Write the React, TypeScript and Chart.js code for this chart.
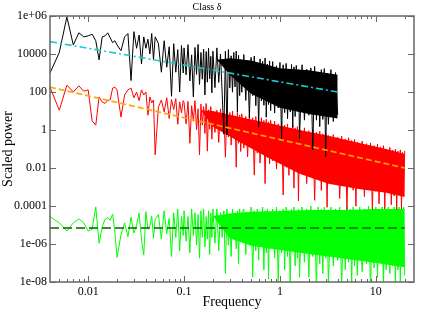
import React, { useEffect, useRef } from "react";
import { Chart, registerables } from "chart.js";

Chart.register(...registerables);

const SERIF = "'Liberation Serif', 'DejaVu Serif', serif";

const chartTitle = "Class δ";
const xAxisTitle = "Frequency";
const yAxisTitle = "Scaled power";

const xTickValues = [0.01, 0.1, 1, 10];
const xTickLabels = ["0.01", "0.1", "1", "10"];
const xMinorTickValues = [
  0.005, 0.006, 0.007, 0.008, 0.009,
  0.02, 0.03, 0.04, 0.05, 0.06, 0.07, 0.08, 0.09,
  0.2, 0.3, 0.4, 0.5, 0.6, 0.7, 0.8, 0.9,
  2, 3, 4, 5, 6, 7, 8, 9,
  20,
];
const yTickValues = [1e-8, 1e-6, 1e-4, 1e-2, 1, 100, 1e4, 1e6];
const yTickLabels = ["1e-08", "1e-06", "0.0001", "0.01", "1", "100", "10000", "1e+06"];

// frequency grid (shared by the three spectra; black stops at 4)
const frequency = [
  0.004, 0.005, 0.006, 0.007, 0.008, 0.009, 0.01, 0.011, 0.012, 0.013, 0.014, 0.015, 0.016, 0.017, 0.018, 0.019, 0.02,
  0.022, 0.024, 0.026, 0.028, 0.03, 0.032, 0.034, 0.036, 0.038, 0.04, 0.042, 0.044, 0.046, 0.048, 0.05,
  0.054, 0.058, 0.062, 0.066, 0.07, 0.074, 0.078, 0.082, 0.086, 0.09, 0.094, 0.098,
  0.1, 0.105, 0.11, 0.115, 0.12, 0.125, 0.13, 0.135, 0.14, 0.145, 0.15, 0.155, 0.16, 0.165, 0.17, 0.175, 0.18, 0.185, 0.19, 0.195, 0.2,
  0.21, 0.22, 0.23, 0.24, 0.25, 0.26, 0.27, 0.28, 0.29, 0.3, 0.31, 0.32, 0.33, 0.34, 0.35, 0.36, 0.37, 0.38, 0.39, 0.4,
  0.42, 0.44, 0.46, 0.48, 0.5, 0.52, 0.54, 0.56, 0.58, 0.6, 0.62, 0.64, 0.66, 0.68, 0.7, 0.72, 0.74, 0.76, 0.78, 0.8,
  0.84, 0.88, 0.92, 0.96, 1, 1.04, 1.08, 1.12, 1.16, 1.2, 1.24, 1.28, 1.32, 1.36, 1.4, 1.44, 1.48, 1.52, 1.56, 1.6,
  1.7, 1.8, 1.9, 2, 2.1, 2.2, 2.3, 2.4, 2.5, 2.6, 2.7, 2.8, 2.9, 3, 3.1, 3.2,
  3.4, 3.6, 3.8, 4, 4.2, 4.4, 4.6, 4.8, 5, 5.2, 5.4, 5.6, 5.8, 6, 6.2, 6.4,
  6.8, 7.2, 7.6, 8, 8.4, 8.8, 9.2, 9.6, 10, 10.4, 10.8, 11.2, 11.6, 12, 12.4, 12.8,
  13.5, 14, 14.5, 15, 15.5, 16, 16.5, 17, 17.5, 18, 18.5, 19, 19.5, 20,
];

const blackPower = [
  1e3, 1.2e4, 9e5, 3e4, 1.3e5, 8e4, 9e4, 1.1e5, 5e4, 5e3, 8e4, 9e4, 1.3e5, 7e4, 4e4, 5e4, 3e4,
  1.5e4, 8e4, 1.2e5, 4e2, 1.5e5, 2e4, 1e5, 3e3, 8e4, 2e4, 6e4, 1e4, 1.2e5, 5e3, 8e4,
  3.6e4, 1.1e3, 5e4, 2e3, 2.4e4, 60, 3.5e4, 1.1e3, 1.7e4, 100, 2.8e4, 1e3,
  2.1e4, 800, 3.1e4, 380, 9e3, 56, 2.2e4, 850, 3.2e4, 250, 1.2e4, 470, 1.8e4, 70, 1.35e4, 330, 2e4, 490, 7.5e3, 90, 1.4e4,
  170, 2.1e4, 320, 1e4, 76, 0.6, 1.4e4, 0.55, 1.7e4, 165, 8e3, 98, 1.2e4, 185, 1.4e4, 8.7, 8.5e3, 65, 5e3, 97,
  9.3e3, 36, 4.4e3, 4.3, 6.6e3, 64, 7.8e3, 19, 2.9e3, 1.4, 5.5e3, 34, 4.1e3, 20, 6.1e3, 4.7, 2.9e3, 22, 4.3e3, 10.5,
  4e3, 7.8, 2.4e3, 14.6, 3.6e3, 0.35, 2.7e3, 8.2, 3.2e3, 3.9, 1.5e3, 9.1, 2.8e3, 1.4, 2.1e3, 5.1, 2.5e3, 9.6, 1.5e3, 0.36,
  2.7e3, 3.3, 1.6e3, 6, 1.85e3, 0.09, 2.2e3, 3.3, 1e3, 1.5, 1.5e3, 3.6, 1.7e3, 0.04, 1e3, 2,
  1.5e3, 2.8, 1.05e3, 6.3,
];

const redPower = [
  180, 11, 230, 100, 210, 110, 130, 3, 1.8, 55, 30, 25, 35, 40, 160, 180, 130,
  4.8, 70, 130, 160, 50, 100, 35, 130, 70, 100, 6, 55, 27, 38, 0.05,
  16, 38, 9, 50, 4, 40, 12, 45, 2, 30, 8, 35,
  28, 2.1, 32, 0.2, 19, 2.9, 35, 1.05, 13, 0.05, 23, 1.8, 17, 0.66, 25, 0.077, 11.6, 1.1, 17, 0.33, 8,
  0.75, 11, 0.22, 13, 1, 7.8, 0.037, 14, 0.43, 8.3, 0.16, 9.7, 0.47, 5.6, 0.011, 8.3, 0.2, 6.1, 0.074, 7.1,
  0.11, 5.1, 0.039, 6, 0.18, 4.4, 0.0042, 5.1, 0.062, 3, 0.018, 4.4, 0.083, 3.2, 0.0015, 3.7, 0.036, 2.7, 0.017, 3.2,
  0.024, 2.9, 0.0088, 2.1, 0.041, 2.5, 0.00038, 1.8, 0.011, 2.1, 0.0041, 1.2, 0.019, 1.8, 0.00087, 1.3, 0.0064, 1.5, 0.00019, 1.1,
  0.0053, 1.3, 0.0015, 0.92, 0.0069, 1.05, 0.0002, 0.76, 0.0029, 0.87, 0.00066, 0.63, 0.0037, 0.71, 0.000085, 0.51,
  0.0019, 0.58, 0.0044, 0.42, 0.00025, 0.48, 0.0018, 0.34, 0.000065, 0.39, 0.0023, 0.28, 0.00068, 0.32, 0.000097, 0.23,
  0.0011, 0.26, 0.00031, 0.19, 0.0014, 0.21, 0.000065, 0.15, 0.00059, 0.18, 0.00013, 0.13, 0.00076, 0.15, 0.00007, 0.1,
  0.00062, 0.12, 0.000115, 0.088, 0.00034, 0.1, 0.000063, 0.077, 0.00074, 0.09, 0.00007, 0.067, 0.00032, 0.079,
];

const greenPower = [
  2.7e-5, 1.3e-5, 4.8e-6, 1.3e-5, 2.1e-5, 1.3e-5, 4.8e-6, 6e-6, 9e-5, 1.1e-6, 8e-6, 2e-5, 2.4e-5, 1.8e-5, 3.8e-5, 4.3e-6, 2e-7,
  3e-6, 1.3e-5, 2.4e-6, 2.6e-5, 3.8e-6, 1e-5, 4.3e-5, 1.6e-6, 2.6e-7, 5e-5, 6e-6, 9e-6, 3e-5, 2e-6, 2e-5,
  3.5e-5, 1.8e-6, 5.6e-5, 3.5e-6, 2.2e-5, 2.2e-7, 4.4e-5, 2.2e-6, 7e-5, 4.4e-7, 2.8e-5, 2.8e-6,
  5.6e-5, 1.4e-6, 2.8e-5, 3.5e-7, 7e-5, 2.8e-6, 4.4e-5, 8.8e-7, 3.5e-5, 1.8e-7, 5.6e-5, 2.2e-6, 7e-5, 7e-7, 2.8e-5, 1.8e-6, 5.6e-5, 2.8e-7, 4.4e-5, 2.2e-6, 7e-5,
  1.1e-6, 7e-5, 4.4e-7, 4.4e-5, 2.2e-6, 5.6e-5, 2.8e-8, 7e-5, 8.8e-7, 3.5e-5, 2.2e-7, 7e-5, 1.8e-6, 4.4e-5, 5.6e-7, 5.6e-5, 8.8e-8, 7e-5, 1.4e-6, 4.4e-5,
  7e-5, 2.8e-7, 4.4e-5, 8.8e-7, 8.8e-5, 1.8e-8, 5.6e-5, 4.4e-7, 7e-5, 1.4e-7, 4.4e-5, 7e-7, 8.8e-5, 4.4e-8, 5.6e-5, 3.5e-7, 7e-5, 1.4e-8, 4.4e-5, 5.6e-7,
  7e-5, 1.8e-7, 8.8e-5, 8.8e-9, 5.6e-5, 3.5e-7, 7e-5, 4.4e-8, 8.8e-5, 2.2e-7, 5.6e-5, 4.4e-9, 7e-5, 4.4e-7, 8.8e-5, 7e-8, 5.6e-5, 1.8e-7, 7e-5, 1.8e-8,
  8.8e-5, 1.1e-7, 7e-5, 1.8e-8, 1e-4, 2.2e-7, 5.6e-5, 3.5e-9, 8.8e-5, 8.8e-8, 7e-5, 2.8e-8, 8.8e-5, 1.8e-7, 5.6e-5, 7e-9,
  8.8e-5, 7e-8, 7e-5, 1.4e-7, 8.8e-5, 4.4e-9, 5.6e-5, 4.4e-8, 8.8e-5, 1.1e-7, 7e-5, 8.8e-9, 8.8e-5, 7e-8, 5.6e-5, 2.2e-8,
  8.8e-5, 3.5e-8, 7e-5, 8.8e-8, 1e-4, 3.5e-9, 7e-5, 5.6e-8, 8.8e-5, 1.8e-8, 5.6e-5, 1.1e-7, 8.8e-5, 5.6e-9, 7e-5, 4.4e-8,
  8.8e-5, 2.8e-8, 7e-5, 7e-8, 8.8e-5, 4.4e-9, 5.6e-5, 4.4e-8, 8.8e-5, 1.1e-8, 7e-5, 8.8e-8, 8.8e-5, 2.2e-8,
];

// dense cores of the spectra (where the traces fill the band solidly)
const blackCoreFreq = [0.22, 0.3, 0.5, 1, 2, 4];
const blackCoreUpper = [5e3, 6e3, 4.5e3, 1.8e3, 1.4e3, 8e2];
const blackCoreLower = [5e3, 800, 80, 15, 7, 4];

const redCoreFreq = [0.15, 0.2, 0.4, 0.8, 1.6, 3.2, 6.4, 12.8, 20];
const redCoreUpper = [11, 10, 4.5, 2.2, 1, 0.5, 0.22, 0.1, 0.055];
const redCoreLower = [11, 1.5, 0.2, 0.03, 0.005, 0.0015, 0.0008, 0.0005, 0.0003];

const greenCoreFreq = [0.2, 0.3, 0.5, 1, 2, 5, 10, 20];
const greenCoreUpper = [3e-5, 4e-5, 5e-5, 5.5e-5, 6.2e-5, 6.2e-5, 7e-5, 7e-5];
const greenCoreLower = [3e-5, 2e-6, 8e-7, 4.8e-7, 3e-7, 1.6e-7, 1e-7, 6e-8];

// power-law fits (end points)
const cyanFitFreq = [0.004, 4];
const cyanFitPower = [4.5e4, 100];
const orangeFitFreq = [0.004, 20];
const orangeFitPower = [180, 0.01];
const greenFitFreq = [0.004, 20];
const greenFitPower = [7e-6, 7e-6];

function toPoints(xs: number[], ys: number[]) {
  return ys.map((y, i) => ({ x: xs[i], y }));
}

function traceDataset(label: string, xs: number[], ys: number[], color: string) {
  return { label, data: toPoints(xs, ys), borderColor: color, borderWidth: 1, pointRadius: 0, fill: false };
}

function coreDatasets(label: string, xs: number[], upper: number[], lower: number[], color: string) {
  return [
    { label: label + " core top", data: toPoints(xs, upper), borderWidth: 0, borderColor: color, pointRadius: 0, fill: false },
    { label: label + " core bottom", data: toPoints(xs, lower), borderWidth: 0, borderColor: color, backgroundColor: color, pointRadius: 0, fill: "-1" },
  ];
}

const framePlugin = {
  id: "xmgraceFrame",
  afterDatasetsDraw(chart: any) {
    const { ctx, chartArea, scales } = chart;
    const { left, right, top, bottom } = chartArea;
    const xs = scales.x;
    const ys = scales.y;
    ctx.save();
    ctx.strokeStyle = "#666";
    ctx.lineWidth = 1;
    ctx.beginPath();
    const major = 6;
    const minor = 3;
    for (const v of xTickValues) {
      const p = Math.round(xs.getPixelForValue(v)) + 0.5;
      ctx.moveTo(p, bottom);
      ctx.lineTo(p, bottom - major);
      ctx.moveTo(p, top);
      ctx.lineTo(p, top + major);
    }
    for (const v of xMinorTickValues) {
      const p = Math.round(xs.getPixelForValue(v)) + 0.5;
      ctx.moveTo(p, bottom);
      ctx.lineTo(p, bottom - minor);
      ctx.moveTo(p, top);
      ctx.lineTo(p, top + minor);
    }
    for (const v of yTickValues) {
      const p = Math.round(ys.getPixelForValue(v)) + 0.5;
      ctx.moveTo(left, p);
      ctx.lineTo(left + major, p);
      ctx.moveTo(right, p);
      ctx.lineTo(right - major, p);
    }
    ctx.stroke();
    ctx.lineWidth = 1.5;
    ctx.strokeRect(left, top, right - left, bottom - top);
    ctx.restore();
  },
};

export default function App() {
  const canvasRef = useRef<HTMLCanvasElement | null>(null);

  useEffect(() => {
    if (!canvasRef.current) return;
    const chart = new Chart(canvasRef.current, {
      type: "line",
      data: {
        datasets: [
          {
            label: "cyan fit",
            data: toPoints(cyanFitFreq, cyanFitPower),
            borderColor: "#1ec8d2",
            borderWidth: 1.6,
            borderDash: [7, 3, 2, 3],
            pointRadius: 0,
            fill: false,
          },
          {
            label: "orange fit",
            data: toPoints(orangeFitFreq, orangeFitPower),
            borderColor: "#ffa500",
            borderWidth: 1.6,
            borderDash: [6, 3],
            pointRadius: 0,
            fill: false,
          },
          {
            label: "green fit",
            data: toPoints(greenFitFreq, greenFitPower),
            borderColor: "#006400",
            borderWidth: 1.4,
            borderDash: [9, 4],
            pointRadius: 0,
            fill: false,
          },
          traceDataset("black", frequency, blackPower, "#000000"),
          ...coreDatasets("black", blackCoreFreq, blackCoreUpper, blackCoreLower, "#000000"),
          traceDataset("red", frequency, redPower, "#ff0000"),
          ...coreDatasets("red", redCoreFreq, redCoreUpper, redCoreLower, "#ff0000"),
          traceDataset("green", frequency, greenPower, "#00ff00"),
          ...coreDatasets("green", greenCoreFreq, greenCoreUpper, greenCoreLower, "#00ff00"),
        ],
      },
      options: {
        responsive: false,
        animation: false,
        layout: { padding: { left: 0, right: 17, top: 0, bottom: 22 } },
        elements: { line: { tension: 0 }, point: { radius: 0 } },
        plugins: {
          legend: { display: false },
          tooltip: { enabled: false },
          title: {
            display: true,
            text: chartTitle,
            color: "#000",
            font: { family: SERIF, size: 10, weight: "normal" },
            padding: { top: 1, bottom: 3 },
          },
        },
        scales: {
          x: {
            type: "logarithmic",
            min: 0.004,
            max: 25,
            grid: { display: false, drawTicks: false },
            border: { display: false },
            afterBuildTicks: (s: any) => {
              s.ticks = xTickValues.map((v) => ({ value: v }));
            },
            afterFit: (s: any) => {
              s.height = 29;
            },
            ticks: {
              autoSkip: false,
              maxRotation: 0,
              padding: 3,
              color: "#000",
              font: { family: SERIF, size: 12 },
              callback: (_v: any, i: number) => xTickLabels[i],
            },
            title: {
              display: true,
              text: xAxisTitle,
              color: "#000",
              font: { family: SERIF, size: 14 },
              padding: { top: 0, bottom: 0.6 },
            },
          },
          y: {
            type: "logarithmic",
            min: 1e-8,
            max: 1e6,
            grid: { display: false, drawTicks: false },
            border: { display: false },
            afterBuildTicks: (s: any) => {
              s.ticks = yTickValues.map((v) => ({ value: v }));
            },
            afterFit: (s: any) => {
              s.width = 50;
            },
            ticks: {
              autoSkip: false,
              padding: 3,
              color: "#000",
              font: { family: SERIF, size: 12 },
              callback: (_v: any, i: number) => yTickLabels[i],
            },
            title: {
              display: true,
              text: yAxisTitle,
              color: "#000",
              font: { family: SERIF, size: 14 },
              padding: { top: 0, bottom: 0 },
            },
          },
        },
      } as any,
      plugins: [framePlugin],
    });
    return () => chart.destroy();
  }, []);

  return (
    <div style={{ position: "absolute", left: 0, top: 0, width: 431, height: 333, background: "#fff" }}>
      <canvas ref={canvasRef} width={431} height={333} style={{ display: "block" }} />
    </div>
  );
}
